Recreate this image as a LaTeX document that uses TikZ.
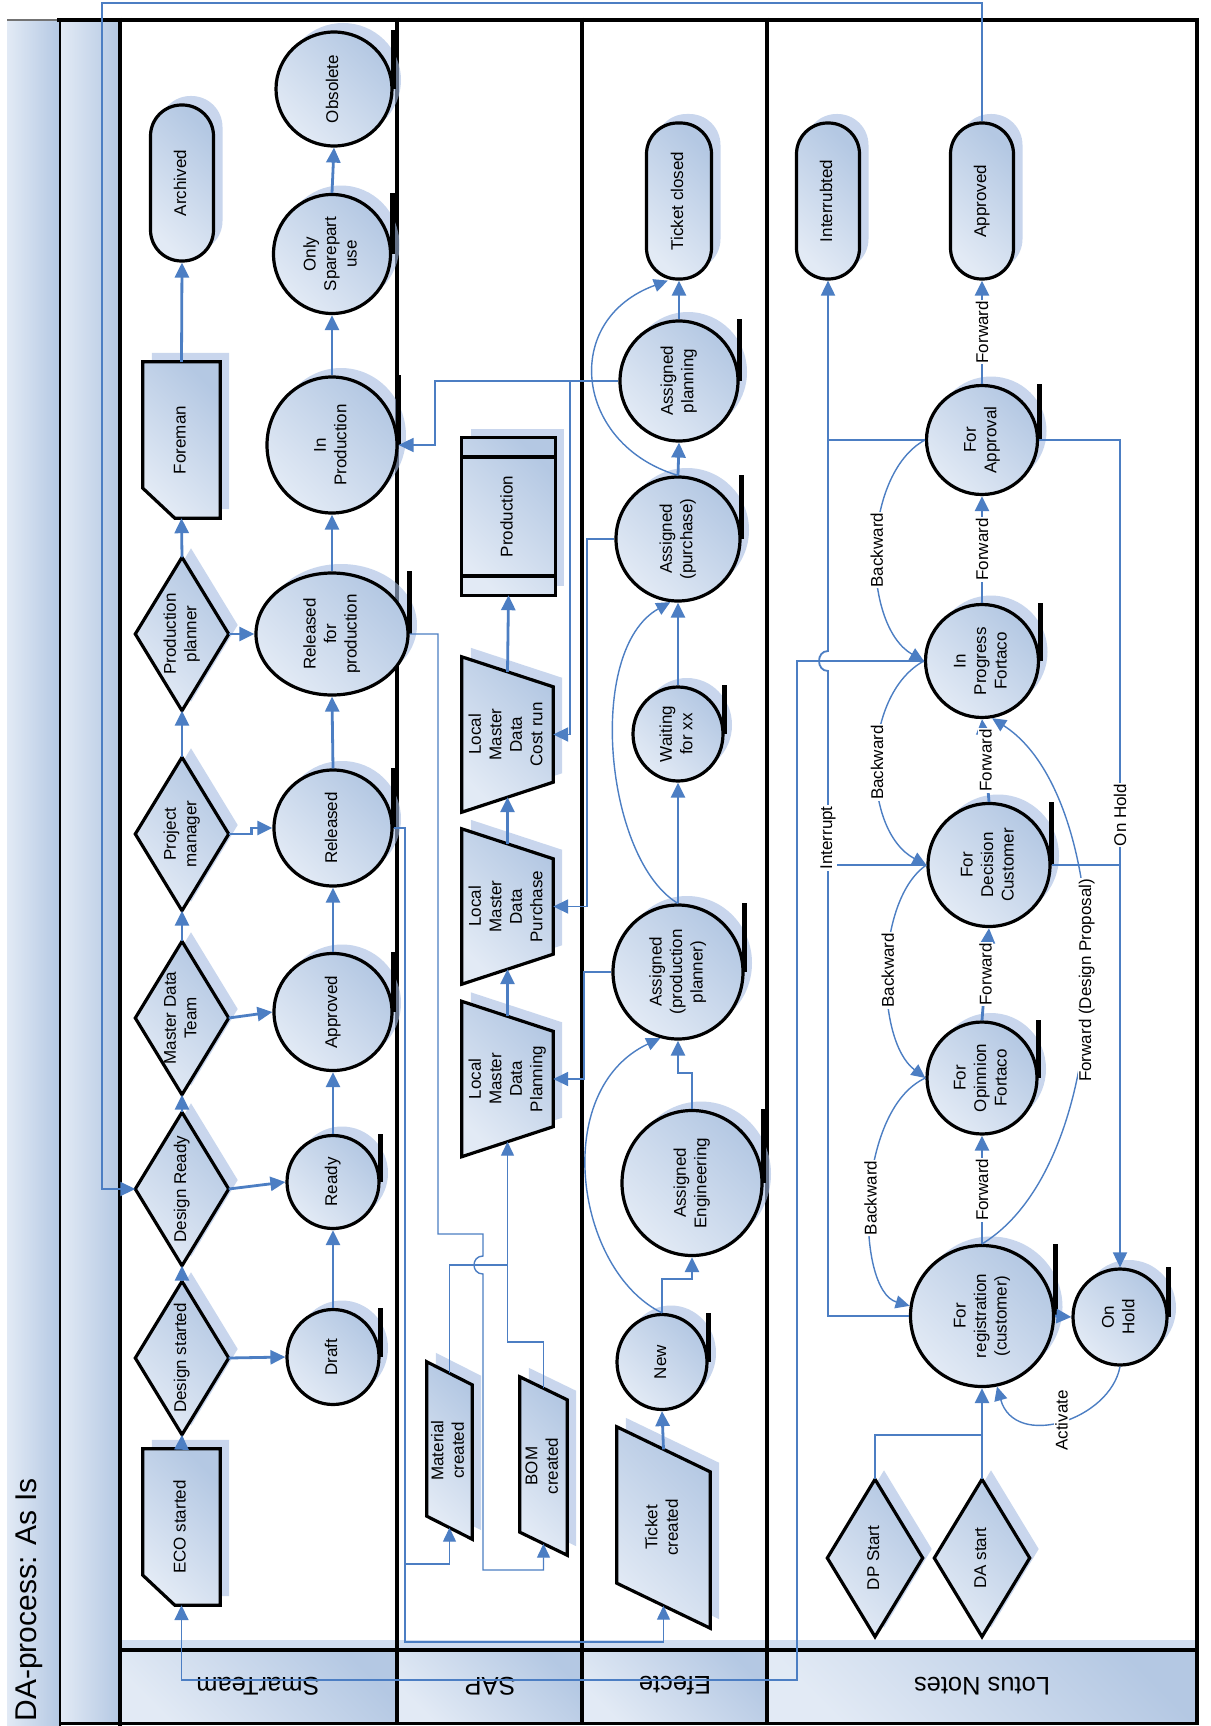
\documentclass[tikz,border=0pt]{standalone}
\usepackage{fontspec}
\usepackage{graphicx}
\setmainfont{Liberation Sans}
\usetikzlibrary{shapes.geometric,shadows,arrows.meta,calc}
\pgfdeclarelayer{back}
\pgfsetlayers{back,main}
\definecolor{lb}{RGB}{180,200,227}
\definecolor{ll}{RGB}{226,234,245}
\definecolor{cb}{RGB}{76,126,195}
\definecolor{shb}{RGB}{165,188,226}
\newcommand{\nf}{\fontsize{17}{20.5}\selectfont}
\newcommand{\rt}[1]{\rotatebox{90}{\begin{tabular}{@{}c@{}}#1\end{tabular}}}
\tikzset{
  stt/.style={ellipse, draw=black, line width=3.2pt, top color=lb, bottom color=ll, shading angle=-45,
    inner sep=0pt, font=\nf, drop shadow={shadow xshift=9pt, shadow yshift=9pt, fill=shb, opacity=0.6}},
  term/.style={rectangle, rounded corners=31pt, draw=black, line width=3.2pt, top color=lb, bottom color=ll,
    shading angle=-45, inner sep=0pt, font=\nf, minimum width=63pt, minimum height=156pt,
    drop shadow={shadow xshift=9pt, shadow yshift=9pt, fill=shb, opacity=0.6}},
  box/.style={rectangle, inner sep=0pt, font=\nf},
  shp/.style={draw=black, line width=3.2pt, top color=lb, bottom color=ll, shading angle=-45},
  shd/.style={fill=shb, opacity=0.6, transform canvas={xshift=9pt, yshift=9pt}},
  tailbar/.style={draw=black, line width=5pt},
  conA/.style={draw=cb, line width=2.8pt, -{Triangle[length=15pt,width=14pt]}},
  conM/.style={draw=cb, line width=1.8pt, -{Triangle[length=15pt,width=14pt]}},
  conMn/.style={draw=cb, line width=1.8pt},
  conL/.style={draw=cb, line width=1.4pt, -{Triangle[length=14pt,width=13pt]}},
  conN/.style={draw=cb, line width=1.4pt},
  lbl/.style={fill=white, inner sep=1pt, font=\nf},
}
\newcommand{\mkstate}[6]{%
  \node[stt, minimum width=#4pt, minimum height=#5pt] (#1) at (#2,#3) {\rt{#6}};
  \draw[tailbar] (#1.east) -- (#1.east |- #1.north);}
\newcommand{\mkdiam}[6]{%
  \node[box, minimum width=#4pt, minimum height=#5pt] (#1) at (#2,#3) {\rt{#6}};
  \begin{pgfonlayer}{back}
    \fill[shd] (#1.north) -- (#1.east) -- (#1.south) -- (#1.west) -- cycle;
    \draw[shp] (#1.north) -- (#1.east) -- (#1.south) -- (#1.west) -- cycle;
  \end{pgfonlayer}}
\newcommand{\mkcard}[4]{%
  \node[box, minimum width=77pt, minimum height=156pt] (#1) at (#2,#3) {\rt{#4}};
  \begin{pgfonlayer}{back}
    \fill[shd] (#1.north west) -- (#1.north east) -- (#1.south east) -- ($(#1.south west)+(32,0)$) -- ($(#1.south west)+(0,-30)$) -- cycle;
    \draw[shp] (#1.north west) -- (#1.north east) -- (#1.south east) -- ($(#1.south west)+(32,0)$) -- ($(#1.south west)+(0,-30)$) -- cycle;
  \end{pgfonlayer}}
\newcommand{\mktrap}[4]{%
  \node[box, minimum width=91pt, minimum height=155pt] (#1) at (#2,#3) {\rt{#4}};
  \begin{pgfonlayer}{back}
    \fill[shd] (#1.north west) -- ($(#1.north east)+(0,30)$) -- ($(#1.south east)+(0,-30)$) -- (#1.south west) -- cycle;
    \draw[shp] (#1.north west) -- ($(#1.north east)+(0,30)$) -- ($(#1.south east)+(0,-30)$) -- (#1.south west) -- cycle;
  \end{pgfonlayer}}
\newcommand{\mkpara}[7]{%
  \node[box, minimum width=#4pt, minimum height=#5pt] (#1) at (#2,#3) {\rt{#7}};
  \begin{pgfonlayer}{back}
    \fill[shd] (#1.north west) -- ($(#1.north east)+(0,#6)$) -- (#1.south east) -- ($(#1.south west)+(0,-#6)$) -- cycle;
    \draw[shp] (#1.north west) -- ($(#1.north east)+(0,#6)$) -- (#1.south east) -- ($(#1.south west)+(0,-#6)$) -- cycle;
  \end{pgfonlayer}}
\begin{document}
\begin{tikzpicture}[x=1pt,y=-1pt]
\useasboundingbox (0,0) rectangle (1210,1726);
% ---------- frame ----------
\begin{pgfonlayer}{back}
  \fill[white] (0,0) rectangle (1210,1726);
  \shade[left color=ll, right color=lb] (7,20) rectangle (60,1726);
  \shade[left color=ll, right color=lb] (60,20) rectangle (120,1723);
  \foreach \a/\b in {120/397,397/582,582/767,767/1197}
    \shade[top color=lb, bottom color=ll, shading angle=-45] (\a,1650) rectangle (\b,1723);
  \fill[shb, opacity=0.5] (120,1640) rectangle (1197,1648);
\end{pgfonlayer}
\draw[line width=1.5pt, black!55] (7,20) -- (58,20);
\draw[line width=4pt] (57,20) -- (1199,20);
\draw[line width=2pt] (60,20) -- (60,1726);
\draw[line width=4pt] (120,18) -- (120,1726);
\foreach \x in {397,582,767} \draw[line width=4pt] (\x,18) -- (\x,1723);
\draw[line width=4pt] (1197,18) -- (1197,1725);
\draw[line width=4pt] (118,1650) -- (1199,1650);
\draw[line width=3pt] (60,1723) -- (1199,1723);
\node[rotate=90, font=\fontsize{30}{36}\selectfont] (title) at (29,1600) {DA-process: As Is};
\node[rotate=180, font=\fontsize{25.5}{30}\selectfont] (hst) at (258,1686) {SmarTeam};
\node[rotate=180, font=\fontsize{25.5}{30}\selectfont] (hsap) at (490,1686) {SAP};
\node[rotate=180, font=\fontsize{25.5}{30}\selectfont] (hef) at (675,1686) {Efecte};
\node[rotate=180, font=\fontsize{25.5}{30}\selectfont] (hln) at (982,1686) {Lotus Notes};
% ---------- SmarTeam ----------
\node[term] (arch) at (182,183) {\rt{Archived}};
\mkcard{fore}{181.5}{440}{Foreman}
\mkdiam{pp}{182}{634}{93}{153}{Production\\planner}
\mkdiam{pm}{182}{834}{93}{153}{Project\\manager}
\mkdiam{mdt}{182}{1018}{93}{153}{Master Data\\Team}
\mkdiam{dr}{182}{1189}{93}{153}{Design Ready}
\mkdiam{ds}{182}{1358}{93}{153}{Design started}
\mkcard{eco}{181.5}{1527}{ECO started}
\mkstate{obs}{334}{89}{116}{114}{Obsolete}
\mkstate{osu}{332}{254}{117}{119}{Only\\Sparepart\\use}
\mkstate{inp}{332}{445}{130}{136}{In\\Production}
\mkstate{rfp}{332}{634}{152}{122}{Released\\for\\production}
\mkstate{rel}{333}{828}{118}{116}{Released}
\mkstate{app}{333}{1012}{118}{117}{Approved}
\mkstate{rdy}{333}{1182}{92}{93}{Ready}
\mkstate{dft}{333}{1357}{92}{95}{Draft}
% ---------- SAP ----------
\node[box, minimum width=93pt, minimum height=157pt] (prod) at (508.5,516.5) {\rt{Production}};
\begin{pgfonlayer}{back}
  \fill[shd] (prod.north west) rectangle (prod.south east);
  \draw[shp] (prod.north west) rectangle (prod.south east);
  \draw[line width=3.6pt] ($(prod.north west)+(0,19)$) -- ($(prod.north east)+(0,19)$);
  \draw[line width=3.6pt] ($(prod.south west)+(0,-19)$) -- ($(prod.south east)+(0,-19)$);
\end{pgfonlayer}
\mktrap{lmc}{507.5}{734.5}{Local\\Master\\Data\\Cost run}
\mktrap{lmp}{507.5}{906.5}{Local\\Master\\Data\\Purchase}
\mktrap{lmpl}{507.5}{1079}{Local\\Master\\Data\\Planning}
\mkpara{mat}{449.5}{1450.5}{45}{177}{23}{Material\\created}
\mkpara{bom}{543.5}{1466}{47}{178}{23}{BOM\\created}
% ---------- Efecte ----------
\node[term, minimum width=65pt] (tc) at (679,201) {\rt{Ticket closed}};
\mkstate{apl}{679}{381}{118}{120}{Assigned\\planning}
\mkstate{apu}{678}{539}{124}{124}{Assigned\\(purchase)}
\mkstate{wxx}{678}{734}{90}{94}{Waiting\\for xx}
\mkstate{apr}{678}{972}{130}{134}{Assigned\\(production\\planner)}
\mkstate{aen}{692}{1183}{140}{145}{Assigned\\Engineering}
\mkstate{new}{662}{1362}{90}{95}{New}
\mkpara{tcr}{663.5}{1527.5}{93}{201}{45}{Ticket\\created}
% ---------- Lotus Notes ----------
\node[term] (intr) at (828,201) {\rt{Interrubted}};
\node[term] (lapp) at (982,201) {\rt{Approved}};
\mkstate{fap}{982}{440}{111}{109}{For\\Approval}
\mkstate{ipf}{982}{661}{113}{113}{In\\Progress\\Fortaco}
\mkstate{fdc}{989}{865}{122}{123}{For\\Decision\\Customer}
\mkstate{fof}{982}{1078}{110}{112}{For\\Opinnion\\Fortaco}
\mkstate{frc}{982}{1316}{143}{141}{For\\registration\\(customer)}
\mkstate{onh}{1120}{1317}{94}{96}{On\\Hold}
\mkdiam{dps}{875}{1558}{95}{157}{DP Start}
\mkdiam{das}{982}{1558}{95}{157}{DA start}
% ---------- connectors: SmarTeam ----------
\draw[conA] (eco.north) -- (ds.south);
\draw[conA] (ds.north) -- (dr.south);
\draw[conA] (dr.north) -- (mdt.south);
\draw[conA] (mdt.north) -- (pm.south);
\draw[conA] (pm.north) -- (pp.south);
\draw[conA] (pp.north) -- (fore.south);
\draw[conA] (fore.north) -- (arch.south);
\draw[conA] (ds.east) -- (dft.west);
\draw[conA] (dr.east) -- (rdy.west);
\draw[conA] (mdt.east) -- (app.west);
\draw[conA] (pm.east) -- ++(23,0) |- (rel.west);
\draw[conA] (pp.east) -- (rfp.west);
\draw[conA] (dft.north) -- (rdy.south);
\draw[conA] (rdy.north) -- (app.south);
\draw[conA] (app.north) -- (rel.south);
\draw[conA] (rel.north) -- (rfp.south);
\draw[conA] (rfp.north) -- (inp.south);
\draw[conA] (inp.north) -- (osu.south);
\draw[conA] (osu.north) -- (obs.south);
% ---------- connectors: SAP ----------
\draw[conA] ($(lmc.north)+(0,15)$) -- (prod.south);
\draw[conA] ($(lmp.north)+(0,15)$) -- ($(lmc.south)+(0,-15)$);
\draw[conA] ($(lmpl.north)+(0,15)$) -- ($(lmp.south)+(0,-15)$);
\coordinate (j1) at (507.5,1265);
\draw[conN] ($(mat.north)+(0,11.5)$) |- (j1);
\draw[conL] ($(bom.north)+(0,11.5)$) |- (507.5,1342) -- ($(lmpl.south)+(0,-15)$);
\draw[conL] (rfp.east) -- (438,634) -- (438,1234) -- (483,1234) -- (483,1256)
  .. controls (471,1256) and (471,1274) .. (483,1274) -- (483,1570) -| ($(bom.south)+(0,-11.5)$);
\draw[conL] (rel.east) -- (405,828) -- (405,1642) -| ($(tcr.south)+(0,-22.5)$);
\coordinate (j2) at (405,1564);
\draw[conL] (j2) -| ($(mat.south)+(0,-11.5)$);
% ---------- connectors: Efecte ----------
\draw[conA] ($(tcr.north)+(0,22.5)$) -- (new.south);
\draw[conA] (new.north) -- ++(0,-34) -| (aen.south);
\draw[conL] (new.north) .. controls (575,1270) and (550,1090) .. (apr.255);
\draw[conA] (aen.north) -- ++(0,-36) -| (apr.south);
\draw[conA] (apr.north) -- (wxx.south);
\draw[conA] (wxx.north) -- (apu.south);
\draw[conL] (apr.north) .. controls (605,860) and (585,650) .. (apu.263);
\draw[conA] (apu.north) -- (apl.south);
\draw[conA] (apl.north) -- (tc.south);
\draw[conL] (apu.north) .. controls (575,445) and (560,320) .. (tc.262);
\draw[conM] (apl.west) -- (435,381) |- (inp.east);
\coordinate (j3) at (570,381);
\draw[conM] (j3) |- (lmc.east);
\draw[conM] (apu.west) -- (587,539) |- (lmp.east);
\draw[conM] (apr.west) -- (584,972) |- (lmpl.east);
% ---------- connectors: Lotus Notes ----------
\draw[conA] (das.north) -- (frc.south);
\coordinate (j4) at (982,1435);
\draw[conMn] (dps.north) |- (j4);
\draw[conA] (frc.east) -- (onh.west);
\draw[conL] (onh.south) .. controls (1110,1420) and (1015,1450) .. node[lbl] (lact) {\rotatebox{90}{Activate}} (frc.-78);
\draw[conA] (frc.north) -- node[lbl] (lf1) {\rotatebox{90}{Forward}} (fof.south);
\draw[conA] (fof.north) -- node[lbl] (lf2) {\rotatebox{90}{Forward}} (fdc.south);
\draw[conA] (fdc.north) -- node[lbl] (lf3) {\rotatebox{90}{Forward}} (ipf.south);
\draw[conA] (ipf.north) -- node[lbl] (lf4) {\rotatebox{90}{Forward}} (fap.south);
\draw[conA] (fap.north) -- node[lbl] (lf5) {\rotatebox{90}{Forward}} (lapp.south);
\draw[conL] (fap.west) .. controls (861,475) and (861,625) .. node[lbl] (lb1) {\rotatebox{90}{Backward}} (ipf.west);
\draw[conL] (ipf.west) .. controls (861,695) and (861,830) .. node[lbl] (lb2) {\rotatebox{90}{Backward}} (fdc.west);
\draw[conL] (fdc.west) .. controls (875,900) and (875,1040) .. node[lbl] (lb3) {\rotatebox{90}{Backward}} (fof.west);
\draw[conL] (fof.west) .. controls (855,1110) and (855,1290) .. node[lbl] (lb4) {\rotatebox{90}{Backward}} (frc.172);
\draw[conL] (frc.north) .. controls (1120,1160) and (1120,800) .. node[lbl] (lfdp) {\rotatebox{90}{Forward (Design Proposal)}} (ipf.-80);
% interrupt
\draw[conM] (frc.west) -- (828,1316) -- (828,671) .. controls (816,671) and (816,651) .. (828,651) -- (intr.south);
\draw[conMn] (fdc.west) -- (828,865);
\draw[conMn] (fap.west) -- (828,440);
\node[lbl] (lint) at (828,838) {\rotatebox{90}{Interrupt}};
% on hold
\draw[conM] (fap.east) -| (onh.north);
\draw[conMn] (fdc.east) -- (1120,865);
\node[lbl] (lonh) at (1120,815) {\rotatebox{90}{On Hold}};
% to ECO started
\draw[conM] (ipf.west) -| (797,1680) -| (eco.south);
% Approved -> Design Ready
\draw[conM] (lapp.north) |- (102,3) |- (dr.west);
\end{tikzpicture}
\end{document}
